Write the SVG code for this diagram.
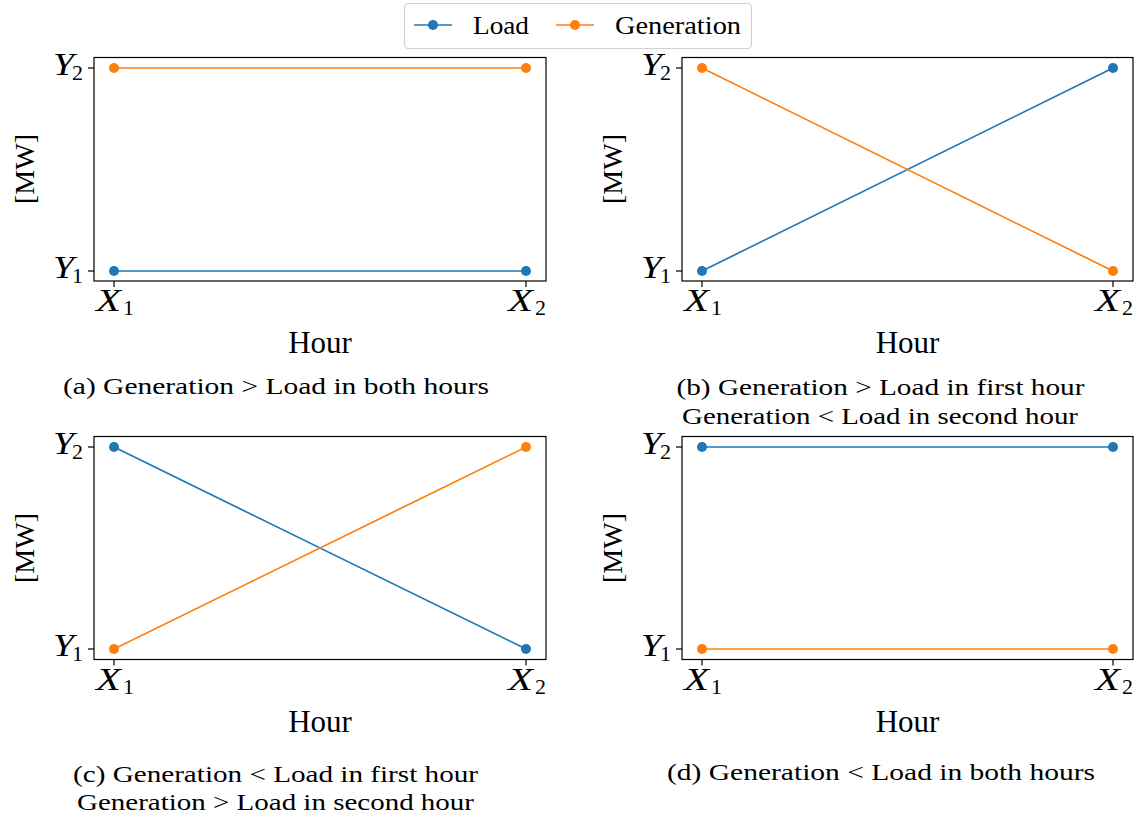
<svg xmlns="http://www.w3.org/2000/svg" width="1137" height="818" viewBox="0 0 1137 818">
<style>
  text { font-family: "Liberation Serif", "Times New Roman", serif; fill: #000; }
  .frame { fill: none; stroke: #000; stroke-width: 1.2; }
  .tick { stroke: #000; stroke-width: 1.2; }
  .load { stroke: #1f77b4; stroke-width: 1.7; fill: none; }
  .gen { stroke: #ff7f0e; stroke-width: 1.7; fill: none; }
  .dload { fill: #1f77b4; }
  .dgen { fill: #ff7f0e; }
  .var { font-style: italic; font-size: 32px; }
  .sub { font-size: 22px; }
  .axl { font-size: 31px; }
  .ylab { font-size: 28px; }
  .cap { font-size: 24px; text-anchor: middle; }
  .leg { font-size: 26px; }
</style>
<rect width="1137" height="818" fill="#fff"/>

<!-- Legend -->
<g id="legend">
  <rect x="404.5" y="3.5" width="347" height="45" rx="4" fill="#fff" stroke="#d0d0d0" stroke-width="1.2"/>
  <line class="load" x1="414" y1="25" x2="452" y2="25"/>
  <circle class="dload" cx="433" cy="25" r="5"/>
  <text class="leg" x="473" y="34" textLength="56" lengthAdjust="spacingAndGlyphs">Load</text>
  <line class="gen" x1="556" y1="25" x2="594" y2="25"/>
  <circle class="dgen" cx="575" cy="25" r="5"/>
  <text class="leg" x="615" y="34" textLength="126" lengthAdjust="spacingAndGlyphs">Generation</text>
</g>

<!-- Panel (a) -->
<g id="panel-a">
  <rect class="frame" x="94" y="57.5" width="452" height="223.5"/>
  <line class="tick" x1="88" y1="68" x2="94" y2="68"/>
  <line class="tick" x1="88" y1="271" x2="94" y2="271"/>
  <line class="tick" x1="114" y1="281" x2="114" y2="287"/>
  <line class="tick" x1="526" y1="281" x2="526" y2="287"/>
  <text class="var" x="53" y="75" textLength="21" lengthAdjust="spacingAndGlyphs">Y</text><text class="sub" x="72" y="80">2</text>
  <text class="var" x="53" y="278" textLength="21" lengthAdjust="spacingAndGlyphs">Y</text><text class="sub" x="72" y="283">1</text>
  <text class="var" x="96" y="311" textLength="25" lengthAdjust="spacingAndGlyphs">X</text><text class="sub" x="123" y="315">1</text>
  <text class="var" x="508" y="311" textLength="25" lengthAdjust="spacingAndGlyphs">X</text><text class="sub" x="535" y="315">2</text>
  <text class="axl" x="320" y="353" text-anchor="middle">Hour</text>
  <text class="ylab" transform="translate(34,169) rotate(-90)" text-anchor="middle">[MW]</text>
  <text class="cap" x="276" y="394" textLength="426" lengthAdjust="spacingAndGlyphs">(a) Generation &gt; Load in both hours</text>
</g>

<!-- Panel (b) -->
<g id="panel-b">
  <rect class="frame" x="682" y="57.5" width="451" height="223.5"/>
  <line class="tick" x1="676" y1="68" x2="682" y2="68"/>
  <line class="tick" x1="676" y1="271" x2="682" y2="271"/>
  <line class="tick" x1="702" y1="281" x2="702" y2="287"/>
  <line class="tick" x1="1113" y1="281" x2="1113" y2="287"/>
  <text class="var" x="641" y="75" textLength="21" lengthAdjust="spacingAndGlyphs">Y</text><text class="sub" x="660" y="80">2</text>
  <text class="var" x="641" y="278" textLength="21" lengthAdjust="spacingAndGlyphs">Y</text><text class="sub" x="660" y="283">1</text>
  <text class="var" x="684" y="311" textLength="25" lengthAdjust="spacingAndGlyphs">X</text><text class="sub" x="711" y="315">1</text>
  <text class="var" x="1095" y="311" textLength="25" lengthAdjust="spacingAndGlyphs">X</text><text class="sub" x="1122" y="315">2</text>
  <text class="axl" x="907.5" y="353" text-anchor="middle">Hour</text>
  <text class="ylab" transform="translate(622,169) rotate(-90)" text-anchor="middle">[MW]</text>
  <text class="cap" x="880.5" y="395" textLength="408" lengthAdjust="spacingAndGlyphs">(b) Generation &gt; Load in first hour</text>
  <text class="cap" x="880" y="424" textLength="396" lengthAdjust="spacingAndGlyphs">Generation &lt; Load in second hour</text>
</g>

<!-- Panel (c) -->
<g id="panel-c">
  <rect class="frame" x="94" y="436.5" width="452" height="223"/>
  <line class="tick" x1="88" y1="447" x2="94" y2="447"/>
  <line class="tick" x1="88" y1="649" x2="94" y2="649"/>
  <line class="tick" x1="114" y1="659.5" x2="114" y2="665.5"/>
  <line class="tick" x1="526" y1="659.5" x2="526" y2="665.5"/>
  <text class="var" x="53" y="453.5" textLength="21" lengthAdjust="spacingAndGlyphs">Y</text><text class="sub" x="72" y="459">2</text>
  <text class="var" x="53" y="656" textLength="21" lengthAdjust="spacingAndGlyphs">Y</text><text class="sub" x="72" y="661">1</text>
  <text class="var" x="96" y="689.5" textLength="25" lengthAdjust="spacingAndGlyphs">X</text><text class="sub" x="123" y="694">1</text>
  <text class="var" x="508" y="689.5" textLength="25" lengthAdjust="spacingAndGlyphs">X</text><text class="sub" x="535" y="694">2</text>
  <text class="axl" x="320" y="731.5" text-anchor="middle">Hour</text>
  <text class="ylab" transform="translate(34,548) rotate(-90)" text-anchor="middle">[MW]</text>
  <text class="cap" x="275.5" y="782" textLength="405" lengthAdjust="spacingAndGlyphs">(c) Generation &lt; Load in first hour</text>
  <text class="cap" x="275.5" y="810" textLength="397" lengthAdjust="spacingAndGlyphs">Generation &gt; Load in second hour</text>
</g>

<!-- Panel (d) -->
<g id="panel-d">
  <rect class="frame" x="682" y="436.5" width="451" height="223"/>
  <line class="tick" x1="676" y1="447" x2="682" y2="447"/>
  <line class="tick" x1="676" y1="649" x2="682" y2="649"/>
  <line class="tick" x1="702" y1="659.5" x2="702" y2="665.5"/>
  <line class="tick" x1="1113" y1="659.5" x2="1113" y2="665.5"/>
  <text class="var" x="641" y="453.5" textLength="21" lengthAdjust="spacingAndGlyphs">Y</text><text class="sub" x="660" y="459">2</text>
  <text class="var" x="641" y="656" textLength="21" lengthAdjust="spacingAndGlyphs">Y</text><text class="sub" x="660" y="661">1</text>
  <text class="var" x="684" y="689.5" textLength="25" lengthAdjust="spacingAndGlyphs">X</text><text class="sub" x="711" y="694">1</text>
  <text class="var" x="1095" y="689.5" textLength="25" lengthAdjust="spacingAndGlyphs">X</text><text class="sub" x="1122" y="694">2</text>
  <text class="axl" x="907.5" y="731.5" text-anchor="middle">Hour</text>
  <text class="ylab" transform="translate(622,548) rotate(-90)" text-anchor="middle">[MW]</text>
  <text class="cap" x="881" y="780" textLength="428" lengthAdjust="spacingAndGlyphs">(d) Generation &lt; Load in both hours</text>
</g>

<!-- Data series (connectors) -->
<g id="series">
  <!-- (a) -->
  <line class="gen" x1="114" y1="68" x2="526" y2="68"/>
  <line class="load" x1="114" y1="271" x2="526" y2="271"/>
  <circle class="dgen" cx="114" cy="68" r="5"/><circle class="dgen" cx="526" cy="68" r="5"/>
  <circle class="dload" cx="114" cy="271" r="5"/><circle class="dload" cx="526" cy="271" r="5"/>
  <!-- (b) -->
  <line class="load" x1="702" y1="271" x2="1113" y2="68"/>
  <line class="gen" x1="702" y1="68" x2="1113" y2="271"/>
  <circle class="dload" cx="702" cy="271" r="5"/><circle class="dload" cx="1113" cy="68" r="5"/>
  <circle class="dgen" cx="702" cy="68" r="5"/><circle class="dgen" cx="1113" cy="271" r="5"/>
  <!-- (c) -->
  <line class="load" x1="114" y1="447" x2="526" y2="649"/>
  <line class="gen" x1="114" y1="649" x2="526" y2="447"/>
  <circle class="dload" cx="114" cy="447" r="5"/><circle class="dload" cx="526" cy="649" r="5"/>
  <circle class="dgen" cx="114" cy="649" r="5"/><circle class="dgen" cx="526" cy="447" r="5"/>
  <!-- (d) -->
  <line class="load" x1="702" y1="447" x2="1113" y2="447"/>
  <line class="gen" x1="702" y1="649" x2="1113" y2="649"/>
  <circle class="dload" cx="702" cy="447" r="5"/><circle class="dload" cx="1113" cy="447" r="5"/>
  <circle class="dgen" cx="702" cy="649" r="5"/><circle class="dgen" cx="1113" cy="649" r="5"/>
</g>
</svg>
